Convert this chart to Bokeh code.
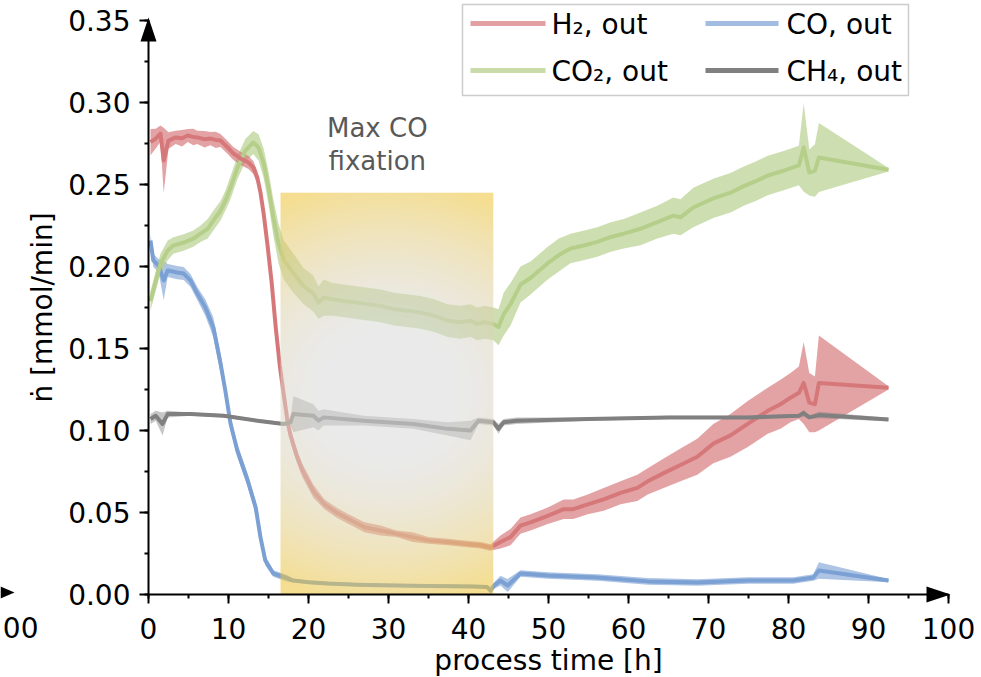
import numpy as np
from bokeh.plotting import figure
from bokeh.models import (Range1d, SingleIntervalTicker, PrintfTickFormatter, Label,
                          PolyAnnotation, BoxAnnotation, Arrow)
from bokeh.embed import file_html
from bokeh.resources import INLINE

# ---------------- data ----------------
h2_t = [0.25, 0.9, 1.5, 1.9, 2.5, 3.4, 4.2, 4.9, 5.6, 6.1, 7.0, 7.75, 8.4, 9.0, 9.9,
        10.6, 11.5, 12.5, 13.1, 13.6, 14.0, 14.4, 14.9, 15.4, 15.9, 16.4, 16.9, 17.4, 17.75, 18.5,
        19.2, 20.6, 22.0, 23.5, 25.0, 27.0, 29.0, 31.0, 33.0, 35.0, 37.4, 39.5, 41.5, 42.75, 44.0,
        45.25, 46.5, 47.75, 49.9, 51.9, 53.1, 54.9, 56.9, 59.0, 61.1, 62.4, 64.4, 66.5, 68.6, 70.6,
        72.75, 74.9, 77.4, 79.0, 80.25, 81.3, 81.9, 82.6, 83.3, 83.8, 92.5]
h2_mean = [0.2758, 0.278, 0.281, 0.2646, 0.2768, 0.2787, 0.2782, 0.2799, 0.2790, 0.2787, 0.2776, 0.278, 0.2772, 0.2768, 0.2726,
           0.2689, 0.2659, 0.2634, 0.2604, 0.2543, 0.2450, 0.232, 0.212, 0.190, 0.163, 0.140, 0.122, 0.105, 0.097, 0.085,
           0.076, 0.063, 0.055, 0.050, 0.046, 0.041, 0.039, 0.037, 0.035, 0.033, 0.032, 0.031, 0.030, 0.0287, 0.032,
           0.035, 0.042, 0.044, 0.048, 0.052, 0.052, 0.055, 0.058, 0.062, 0.065, 0.069, 0.074, 0.079, 0.084, 0.092,
           0.097, 0.104, 0.112, 0.116, 0.120, 0.123, 0.129, 0.117, 0.116, 0.129, 0.126]
h2_err = [0.008, 0.006, 0.005, 0.020, 0.005, 0.004, 0.005, 0.004, 0.005, 0.004, 0.005, 0.004, 0.005, 0.004, 0.004,
          0.004, 0.004, 0.004, 0.004, 0.004, 0.004, 0.004, 0.004, 0.004, 0.004, 0.004, 0.004, 0.004, 0.004, 0.004,
          0.004, 0.004, 0.003, 0.003, 0.003, 0.003, 0.003, 0.002, 0.003, 0.002, 0.002, 0.002, 0.002, 0.002, 0.004,
          0.005, 0.005, 0.005, 0.005, 0.006, 0.006, 0.006, 0.007, 0.007, 0.008, 0.008, 0.009, 0.010, 0.011, 0.012,
          0.013, 0.014, 0.014, 0.015, 0.015, 0.016, 0.025, 0.018, 0.017, 0.029, 0.001]

co2_t = [0.25, 0.9, 1.5, 2.4, 3.1, 4.4, 5.6, 6.5, 7.4, 8.1, 9.0, 9.6, 10.25, 11.1, 12.1,
         13.1, 13.75, 14.4, 15.0, 15.6, 16.25, 16.9, 18.1, 19.4, 20.6, 21.25, 21.9, 23.0, 24.4, 26.0,
         27.4, 29.0, 30.7, 32.5, 34.0, 35.7, 37.4, 39.0, 40.25, 41.1, 42.0, 43.1, 43.75, 44.4, 45.25,
         46.5, 47.75, 49.9, 51.3, 52.75, 54.5, 56.1, 57.8, 59.4, 61.5, 63.6, 65.6, 66.5, 68.1, 70.6,
         72.75, 74.4, 75.9, 77.4, 79.4, 81.3, 81.9, 82.6, 83.3, 83.8, 92.5]
co2_mean = [0.179, 0.191, 0.2018, 0.2098, 0.2128, 0.2146, 0.217, 0.220, 0.223, 0.228, 0.234, 0.240, 0.248, 0.260, 0.2707,
            0.2756, 0.2726, 0.2628, 0.248, 0.230, 0.214, 0.204, 0.196, 0.188, 0.1835, 0.178, 0.181, 0.180, 0.179, 0.178,
            0.177, 0.176, 0.174, 0.173, 0.172, 0.170, 0.167, 0.166, 0.167, 0.165, 0.166, 0.165, 0.163, 0.171, 0.177,
            0.189, 0.193, 0.202, 0.207, 0.211, 0.213, 0.215, 0.218, 0.220, 0.223, 0.227, 0.231, 0.230, 0.236, 0.2415,
            0.245, 0.249, 0.252, 0.2555, 0.2585, 0.2616, 0.2726, 0.2573, 0.2585, 0.2665, 0.259]
co2_err = [0.006, 0.006, 0.006, 0.006, 0.005, 0.005, 0.005, 0.005, 0.006, 0.006, 0.006, 0.006, 0.007, 0.007, 0.007,
           0.007, 0.008, 0.009, 0.010, 0.011, 0.012, 0.012, 0.012, 0.011, 0.011, 0.010, 0.011, 0.010, 0.010, 0.010,
           0.010, 0.010, 0.010, 0.010, 0.010, 0.010, 0.010, 0.010, 0.010, 0.010, 0.010, 0.010, 0.011, 0.013, 0.013,
           0.011, 0.010, 0.010, 0.010, 0.009, 0.009, 0.009, 0.009, 0.009, 0.010, 0.010, 0.011, 0.011, 0.012, 0.012,
           0.012, 0.012, 0.012, 0.012, 0.012, 0.012, 0.027, 0.014, 0.016, 0.021, 0.001]

co_t = [0.25, 0.6, 1.25, 1.9, 2.4, 3.6, 4.4, 5.25, 6.1, 7.1, 8.1, 9.0, 9.6, 10.25, 11.1,
        12.4, 13.4, 14.0, 14.6, 15.6, 17.4, 18.1, 20.0, 22.4, 26.0, 30.7, 35.0, 40.6, 42.3, 42.75,
        43.2, 44.0, 44.9, 46.5, 49.9, 56.1, 62.4, 68.6, 74.9, 80.6, 83.1, 83.8, 92.5]
co_mean = [0.2159, 0.2037, 0.2006, 0.1915, 0.1976, 0.1963, 0.1957, 0.1915, 0.1835, 0.175, 0.163, 0.141, 0.1244, 0.1043, 0.0878,
           0.0695, 0.053, 0.0348, 0.0207, 0.0128, 0.0098, 0.0085, 0.0075, 0.0067, 0.006, 0.0055, 0.0052, 0.0049, 0.0046, 0.0024,
           0.0055, 0.0085, 0.0055, 0.0128, 0.0116, 0.0104, 0.008, 0.0073, 0.0085, 0.0085, 0.0104, 0.0146, 0.0085]
co_err = [0.004, 0.004, 0.004, 0.012, 0.004, 0.004, 0.004, 0.004, 0.004, 0.005, 0.006, 0.006, 0.005, 0.004, 0.004,
          0.004, 0.004, 0.003, 0.003, 0.002, 0.002, 0.001, 0.001, 0.001, 0.001, 0.001, 0.001, 0.001, 0.001, 0.002,
          0.002, 0.003, 0.004, 0.002, 0.002, 0.002, 0.002, 0.002, 0.002, 0.002, 0.002, 0.005, 0.001]

ch4_t = [0.25, 0.9, 1.75, 2.4, 5.25, 9.4, 13.6, 16.9, 17.75, 18.1, 20.6, 21.25, 21.9, 26.9, 33.1,
         37.4, 40.25, 41.25, 43.1, 43.75, 44.4, 46.0, 55.0, 65.0, 75.0, 81.3, 81.9, 82.6, 83.8, 92.5]
ch4_mean = [0.107, 0.109, 0.104, 0.110, 0.110, 0.109, 0.106, 0.104, 0.105, 0.110, 0.109, 0.106, 0.108, 0.106, 0.104,
            0.101, 0.100, 0.106, 0.105, 0.101, 0.105, 0.106, 0.107, 0.108, 0.108, 0.109, 0.1106, 0.108, 0.1094, 0.1067]
ch4_err = [0.003, 0.003, 0.007, 0.002, 0.001, 0.001, 0.001, 0.001, 0.002, 0.011, 0.007, 0.006, 0.005, 0.003, 0.003,
           0.004, 0.006, 0.002, 0.002, 0.003, 0.002, 0.002, 0.001, 0.001, 0.001, 0.001, 0.002, 0.001, 0.002, 0.001]

series_names = ["H₂, out", "CO, out", "CO₂, out", "CH₄, out"]

# highlighted phase ("Max CO fixation")
band_start, band_end, band_top = 16.5, 43.1, 0.245
band_text = ["Max CO", "fixation"]
band_text_x = 28.6

# axis extents
x_axis_max, y_axis_max = 100, 0.35

# ---------------- style ----------------
FONT = "DejaVu Sans"
RED, GREEN, BLUE, GRAY = "#d6787a", "#b5cf8b", "#7aa0d4", "#808080"

# canvas-pixel geometry (frame covers the whole canvas; axes sit at x=0 / y=0)
W, H = 981, 677
FL, FB, SX, SY = 148.0, 594.0, 8.0, 574.0 / 0.35
TXT = 10  # empirical shift of label baselines


def dx(px):
    return (px - FL) / SX


def dy(py):
    return (FB - py) / SY


p = figure(frame_width=W, frame_height=H, min_border=0,
           x_range=Range1d(dx(0), dx(W)), y_range=Range1d(dy(H), dy(0)),
           output_backend="svg", toolbar_location=None)
p.outline_line_color = None
p.grid.visible = False
p.background_fill_color = "white"
p.border_fill_color = "white"

series = [
    (co_t, co_mean, co_err, BLUE, 0.62),
    (co2_t, co2_mean, co2_err, GREEN, 0.68),
    (h2_t, h2_mean, h2_err, RED, 0.68),
    (ch4_t, ch4_mean, ch4_err, GRAY, 0.45),
]
for t, m, e, col, a in series:
    m = np.asarray(m)
    e = np.asarray(e)
    p.varea(x=t, y1=m - e, y2=m + e, fill_color=col, fill_alpha=a)
for t, m, e, col, a in series:
    p.line(t, m, line_color=col, line_width=4, line_join="round")

# gradient overlay of the highlighted phase
nx, ny = 214, 402
gx = (np.arange(nx) + 0.5) / nx
gy = (np.arange(ny) + 0.5) / ny
GX, GY = np.meshgrid(gx, gy)
u = (GX - 0.5) / 1.0
v = (GY - 0.5) / 0.48
r = np.sqrt(u ** 2 + v ** 2)
f = np.clip((r - 0.3) / 0.8, 0, 1) ** 1.6
grey = np.array([234.0, 234.0, 234.0])
gold = np.array([245.0, 222.0, 145.0])
D = (1 - f)[..., None] * grey + f[..., None] * gold
A = 0.55
C = np.clip(255 - (255 - D) / A, 0, 255)
img = np.empty((ny, nx), dtype=np.uint32)
view = img.view(dtype=np.uint8).reshape((ny, nx, 4))
view[..., 0] = C[..., 0].astype(np.uint8)
view[..., 1] = C[..., 1].astype(np.uint8)
view[..., 2] = C[..., 2].astype(np.uint8)
view[..., 3] = int(A * 255)
p.image_rgba(image=[img], x=band_start, y=0, dw=band_end - band_start, dh=band_top)

p.add_layout(Label(x=band_text_x, y=dy(137 - TXT), text=band_text[0], text_align="center",
                   text_baseline="alphabetic", text_font=FONT, text_font_size="26px",
                   text_color="#595959"))
p.add_layout(Label(x=band_text_x, y=dy(170 - TXT), text=band_text[1], text_align="center",
                   text_baseline="alphabetic", text_font=FONT, text_font_size="26px",
                   text_color="#595959"))

# ---------------- axes (fixed at the data origin) ----------------
p.xaxis.fixed_location = 0
p.yaxis.fixed_location = 0
p.xaxis.bounds = (0, x_axis_max)
p.yaxis.bounds = (0, y_axis_max + 1e-4)
p.xaxis.ticker = SingleIntervalTicker(interval=10, num_minor_ticks=2)
p.yaxis.ticker = SingleIntervalTicker(interval=0.05, num_minor_ticks=2)
p.yaxis.formatter = PrintfTickFormatter(format="%.2f")
for ax in (p.xaxis[0], p.yaxis[0]):
    ax.axis_line_width = 2
    ax.axis_line_color = "black"
    ax.major_tick_line_width = 2
    ax.minor_tick_line_width = 2
    ax.major_tick_line_color = "black"
    ax.minor_tick_line_color = "black"
    ax.major_tick_out = 9
    ax.major_tick_in = 0
    ax.minor_tick_out = 4
    ax.minor_tick_in = 0
    ax.major_label_text_font = FONT
    ax.major_label_text_font_size = "28px"
    ax.major_label_text_color = "black"
p.xaxis.major_label_standoff = 14
p.yaxis.major_label_standoff = 9
p.yaxis.axis_label = "ṅ [mmol/min]"
p.yaxis.axis_label_text_font = FONT
p.yaxis.axis_label_text_font_size = "28px"
p.yaxis.axis_label_text_font_style = "normal"
p.yaxis.axis_label_text_color = "black"
p.yaxis.axis_label_standoff = 6

p.add_layout(Label(x=x_axis_max / 2, y=dy(670 - TXT), text="process time [h]", text_align="center",
                   text_baseline="alphabetic", text_font=FONT, text_font_size="28px",
                   text_color="black"))

# axis arrow heads
p.add_layout(PolyAnnotation(xs=[dx(140), dx(156), dx(148)], ys=[dy(41), dy(41), dy(17)],
                            fill_color="black", fill_alpha=1, line_color=None))
p.add_layout(PolyAnnotation(xs=[dx(926), dx(926), dx(950)], ys=[dy(586), dy(602), dy(594)],
                            fill_color="black", fill_alpha=1, line_color=None))
# remains of the neighbouring panel at the left edge
p.add_layout(PolyAnnotation(xs=[dx(0), dx(0), dx(14)], ys=[dy(586), dy(598), dy(592)],
                            fill_color="black", fill_alpha=1, line_color=None))
p.add_layout(Label(x=dx(38), y=dy(637 - TXT), text="00", text_align="right",
                   text_baseline="alphabetic", text_font=FONT, text_font_size="28px",
                   text_color="black"))

# ---------------- legend ----------------
p.add_layout(BoxAnnotation(left=dx(462), right=dx(908), top=dy(4), bottom=dy(95),
                           fill_color="white", fill_alpha=1, line_color="#555555",
                           line_width=1.5))
legend_cols = [RED, BLUE, GREEN, GRAY]
legend_alpha = [0.7, 0.7, 0.75, 1.0]
cells = [(470, 545, 23, 551, 34), (705, 778, 23, 786, 34),
         (470, 545, 70, 551, 81), (705, 778, 70, 786, 81)]
for name, col, al, (x0, x1, ly, tx, ty) in zip(series_names, legend_cols, legend_alpha, cells):
    p.add_layout(Arrow(end=None, x_start=dx(x0), x_end=dx(x1), y_start=dy(ly), y_end=dy(ly),
                       line_color=col, line_alpha=al, line_width=5))
    p.add_layout(Label(x=dx(tx), y=dy(ty - TXT), text=name, text_align="left",
                       text_baseline="alphabetic", text_font=FONT, text_font_size="28px",
                       text_color="black"))

open("out.html", "w", encoding="utf-8").write(file_html(p, INLINE))
